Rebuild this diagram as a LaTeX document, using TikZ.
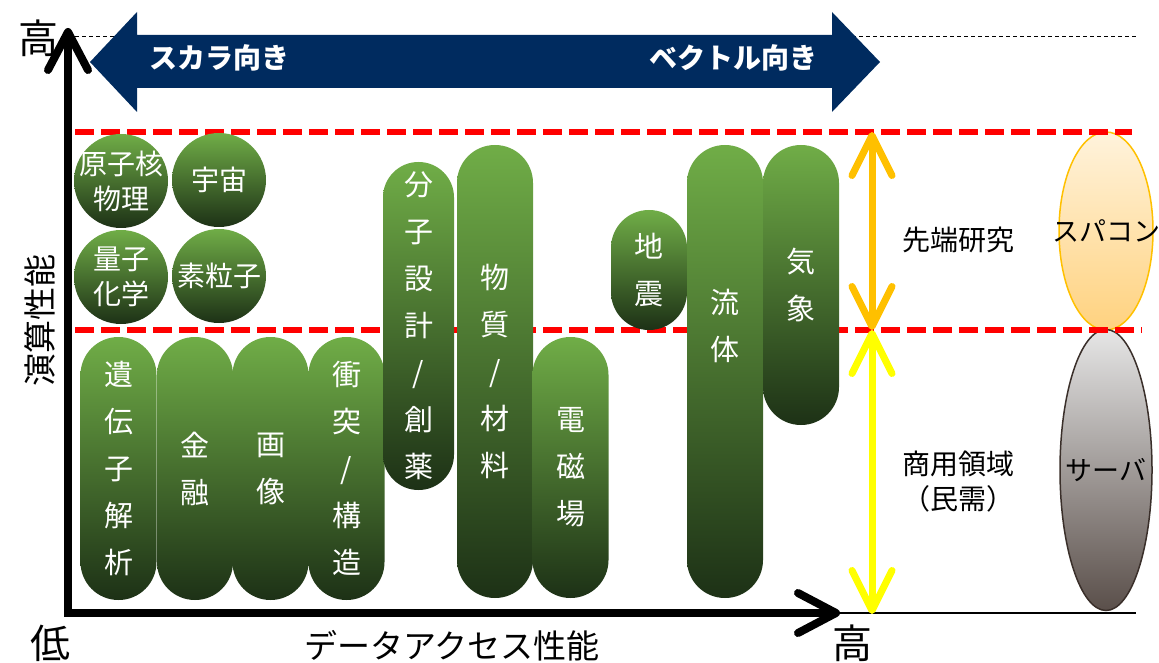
\documentclass[tikz,border=0pt]{standalone}
\usepackage{fontspec}
\setmainfont{Noto Sans CJK JP}
\usetikzlibrary{arrows.meta,shapes.geometric}
\definecolor{NavyBar}{HTML}{002B5F}
\definecolor{LeafTop}{HTML}{70AD47}
\definecolor{LeafBottom}{HTML}{1D3116}
\definecolor{BandRed}{HTML}{FF0000}
\definecolor{ResearchOrange}{HTML}{FFC000}
\definecolor{MarketYellow}{HTML}{FFFF00}
\definecolor{SpaconTop}{HTML}{FFF3DC}
\definecolor{SpaconBottom}{HTML}{FFD27F}
\definecolor{ServerTop}{HTML}{E6E6E6}
\definecolor{ServerBottom}{HTML}{5A4F4A}
\definecolor{ServerEdge}{HTML}{3A2F2A}
\tikzset{
  capsule/.style={rectangle, rounded corners=37.9pt, top color=LeafTop, bottom color=LeafBottom, minimum width=76pt, text=white, font=\fontsize{29}{47}\selectfont, align=center, inner sep=0pt},
  ball/.style={circle, top color=LeafTop, bottom color=LeafBottom, minimum size=94pt, inner sep=0pt},
  balltext/.style={text=white, font=\fontsize{28}{35}\selectfont, align=center, inner sep=0pt},
  bartext/.style={text=white, font=\fontsize{28}{28}\selectfont\bfseries, inner sep=0pt},
  machinetext/.style={text=black, font=\fontsize{27}{27}\selectfont, inner sep=0pt},
  sidetext/.style={text=black, font=\fontsize{28}{35}\selectfont, align=center, inner sep=0pt},
  axistext/.style={text=black, font=\fontsize{33}{33}\selectfont, inner sep=0pt},
  endtext/.style={text=black, font=\fontsize{40}{40}\selectfont, inner sep=0pt},
  axisline/.style={line width=8pt, line join=miter, {Straight Barb[round, length=38pt, width=40pt]}-{Straight Barb[round, length=38pt, width=40pt]}},
  bandline/.style={BandRed, line width=6pt, dash pattern=on 19pt off 7pt},
  rangearrow/.style={line width=7pt, {Straight Barb[round, length=40pt, width=40pt]}-{Straight Barb[round, length=40pt, width=40pt]}}
}
\begin{document}
\begin{tikzpicture}[x=1pt, y=-1pt]
  \useasboundingbox (0,0) rectangle (1159,663);

  % thin guide lines
  \coordinate (peakleft) at (75,37);
  \coordinate (peakright) at (1138,37);
  \draw[line width=1pt, dash pattern=on 4pt off 3pt] (peakleft) -- (peakright);

  % direction bar
  \fill[NavyBar] (90,62) -- (137,12) -- (137,35) -- (832,35) -- (832,12) -- (880,62)
    -- (832,112) -- (832,88) -- (137,88) -- (137,112) -- cycle;
  \node[bartext] (scalar) at (219,58) {スカラ向き};
  \node[bartext] (vector) at (733,58) {ベクトル向き};

  % machines
  \node[ellipse, minimum width=94pt, minimum height=198pt, inner sep=0pt, top color=SpaconTop, bottom color=SpaconBottom, draw=ResearchOrange, line width=1.5pt, label={[machinetext]center:スパコン}] (spacon) at (1106,231) {};
  \node[ellipse, minimum width=92pt, minimum height=281pt, inner sep=0pt, top color=ServerTop, bottom color=ServerBottom, draw=ServerEdge, line width=1.5pt, label={[machinetext]center:サーバ}] (server) at (1106,470) {};

  % performance bands
  \coordinate (upperleft) at (75,132);
  \coordinate (upperright) at (1132,132);
  \coordinate (lowerleft) at (75,330);
  \coordinate (lowerright) at (1142,330);
  \draw[bandline] (upperleft) -- (upperright);
  \draw[bandline] (lowerleft) -- (lowerright);

  % axes
  \coordinate (ytip) at (68,28);
  \coordinate (origin) at (68,613);
  \coordinate (xtip) at (840,613);
  \coordinate (baseend) at (1136,613);
  \draw[line width=1.5pt] (xtip) -- (baseend);
  \draw[axisline] (ytip) -- (origin) -- (xtip);
  \node[endtext] (yhigh) at (38,38) {高};
  \node[endtext] (low) at (50,643) {低};
  \node[endtext] (xhigh) at (852,643) {高};
  \node[axistext, rotate=90] (ylabel) at (40,320) {演算性能};
  \node[axistext] (xlabel) at (452,646) {データアクセス性能};

  % research fields
  \node[ball, label={[balltext]center:原子核\\物理}] (nucleus) at (121,181) {};
  \node[ball, label={[balltext]center:宇宙}] (cosmos) at (219,180) {};
  \node[ball, label={[balltext]center:量子\\化学}] (qchem) at (121,277) {};
  \node[ball, label={[balltext]center:素粒子}] (particle) at (219,276) {};

  \node[capsule, minimum height=263pt] (genome) at (118.5,468.5) {遺\\伝\\子\\解\\析};
  \node[capsule, minimum height=263pt] (finance) at (195,468.5) {金\\融};
  \node[capsule, minimum height=263pt] (imaging) at (270.5,468.5) {画\\像};
  \node[capsule, minimum height=263pt] (crash) at (346.5,468.5) {衝\\突\\/\\構\\造};
  \node[capsule, minimum width=71pt, rounded corners=35.4pt, minimum height=328pt] (drug) at (418.5,326) {分\\子\\設\\計\\/\\創\\薬};
  \node[capsule, minimum height=453pt] (matter) at (495,371.5) {物\\質\\/\\材\\料};
  \node[capsule, minimum height=261pt] (field) at (570.5,467.5) {電\\磁\\場};
  \node[capsule, minimum height=120pt] (quake) at (649,270) {地\\震};
  \node[capsule, minimum height=453pt] (fluid) at (725,371.5) {流\\体\\~\\~};
  \node[capsule, minimum height=280pt] (weather) at (801,285) {気\\象};

  % ranges
  \coordinate (bandtop) at (872,132);
  \coordinate (bandmid) at (872,330);
  \coordinate (bandbot) at (872,614);
  \draw[rangearrow, ResearchOrange] (bandtop) -- (bandmid);
  \draw[rangearrow, MarketYellow] (bandmid) -- (bandbot);
  \node[sidetext] (research) at (958,240) {先端研究};
  \node[sidetext] (market) at (958,482) {商用領域\\（民需）};
\end{tikzpicture}
\end{document}
